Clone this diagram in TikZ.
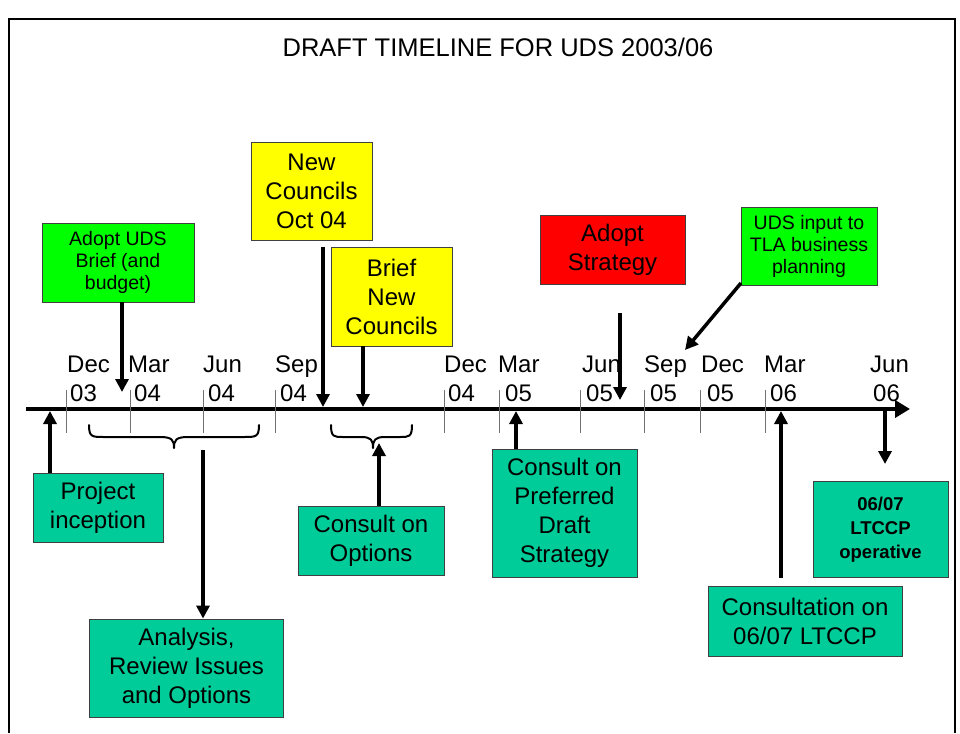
\documentclass[tikz,border=0pt]{standalone}
\usepackage{fontspec}
\setmainfont{Liberation Sans}
\usetikzlibrary{arrows.meta}
\definecolor{boxgreen}{HTML}{00FF00}
\definecolor{boxteal}{HTML}{00CC99}
\definecolor{boxyellow}{HTML}{FFFF00}
\definecolor{boxred}{HTML}{FF0000}
\tikzset{
  box/.style={draw=black!75, line width=0.9pt, rectangle, inner sep=0pt, align=center,
    font=\fontsize{24}{29}\selectfont},
  smallbox/.style={box, font=\fontsize{19.5}{22}\selectfont},
  boldbox/.style={box, font=\fontsize{18.5}{24}\selectfont\bfseries},
  lbl/.style={anchor=base west, inner sep=0pt, font=\fontsize{24}{29}\selectfont},
  tick/.style={draw=black!55, line width=0.8pt},
  arr/.style={line width=3.5pt, -{Triangle[length=13pt,width=13pt]}},
  brace/.style={line width=2pt, line cap=round, line join=round},
}
\begin{document}
\begin{tikzpicture}[x=1pt,y=-1pt]
\useasboundingbox (0,0) rectangle (960,733);
% frame
\draw[line width=2pt] (9,733) -- (9,19) -- (955,19) -- (955,733);
% title
\node[font=\fontsize{25.5}{30}\selectfont] (title) at (498,47) {DRAFT TIMELINE FOR UDS 2003/06};
% axis
\coordinate (axL) at (26,409);
\coordinate (axR) at (910,409);
\draw[line width=4.5pt, -{Triangle[length=15pt,width=17pt]}] (axL) -- (axR);
% ticks
\foreach \x in {66,130,203,275,444,499,580,644,700,765}
  \draw[tick] (\x,390) -- (\x,433);
% date labels
\node[lbl] (m1) at (67,372) {Dec};  \node[lbl] (y1) at (70,401) {03};
\node[lbl] (m2) at (128,372) {Mar}; \node[lbl] (y2) at (134,401) {04};
\node[lbl] (m3) at (203,372) {Jun}; \node[lbl] (y3) at (208,401) {04};
\node[lbl] (m4) at (275,372) {Sep}; \node[lbl] (y4) at (280,401) {04};
\node[lbl] (m5) at (444,372) {Dec}; \node[lbl] (y5) at (448,401) {04};
\node[lbl] (m6) at (498,372) {Mar}; \node[lbl] (y6) at (505,401) {05};
\node[lbl] (m7) at (582,372) {Jun}; \node[lbl] (y7) at (586,401) {05};
\node[lbl] (m8) at (644,372) {Sep}; \node[lbl] (y8) at (650,401) {05};
\node[lbl] (m9) at (701,372) {Dec}; \node[lbl] (y9) at (707,401) {05};
\node[lbl] (m10) at (764,372) {Mar}; \node[lbl] (y10) at (770,401) {06};
\node[lbl] (m11) at (870,372) {Jun}; \node[lbl] (y11) at (873,401) {06};
% boxes
\node[smallbox, fill=boxgreen, minimum width=152pt, minimum height=79pt] (adopt) at (118,262.5) {Adopt UDS\\Brief (and\\budget)};
\node[box, fill=boxyellow, minimum width=121pt, minimum height=98pt] (newc) at (311.5,191) {New\\Councils\\Oct 04};
\node[box, fill=boxyellow, minimum width=121pt, minimum height=99pt] (brief) at (391.5,296.5) {Brief\\New\\Councils};
\node[box, fill=boxred, minimum width=145pt, minimum height=69pt] (strat) at (612.5,249.5) {Adopt\\Strategy};
\node[smallbox, fill=boxgreen, minimum width=136pt, minimum height=78pt] (uds) at (809,246) {UDS input to\\TLA business\\planning};
\node[box, fill=boxteal, minimum width=130pt, minimum height=69pt] (proj) at (98,507.5) {Project\\inception};
\node[box, fill=boxteal, minimum width=194pt, minimum height=98pt] (anal) at (186.5,668) {Analysis,\\Review Issues\\and Options};
\node[box, fill=boxteal, minimum width=146pt, minimum height=69pt] (opts) at (371,540.5) {Consult on\\Options};
\node[box, fill=boxteal, minimum width=145pt, minimum height=128pt] (pref) at (564.5,513) {Consult on\\Preferred\\Draft\\Strategy};
\node[box, fill=boxteal, minimum width=194pt, minimum height=70pt] (ltccp) at (805,621) {Consultation on\\06/07 LTCCP};
\node[boldbox, fill=boxteal, minimum width=135pt, minimum height=96pt] (oper) at (880.5,529.5) {06/07\\LTCCP\\operative};
% braces
\draw[brace] (89,425) .. controls (89,437) and (92,437) .. (104,437) -- (160,437)
  .. controls (172,437) and (174,440) .. (174,448)
  .. controls (174,440) and (176,437) .. (188,437) -- (244,437)
  .. controls (256,437) and (259,437) .. (259,425);
\draw[brace] (331,425) .. controls (331,437) and (334,437) .. (343,437) -- (361,437)
  .. controls (371,437) and (373,440) .. (373,448)
  .. controls (373,440) and (375,437) .. (385,437) -- (400,437)
  .. controls (409,437) and (412,437) .. (412,425);
% arrow coordinates
\coordinate (tAdopt) at (122,392);
\coordinate (sNewc) at (323,247);
\coordinate (tNewc) at (323,407);
\coordinate (tBrief) at (363,407);
\coordinate (sStrat) at (620,313);
\coordinate (tStrat) at (620,400);
\coordinate (sUds) at (741,283);
\coordinate (tUds) at (685,350);
\coordinate (tProj) at (50,411);
\coordinate (sAnal) at (203,450);
\coordinate (tOpts) at (379,443);
\coordinate (tPref) at (516,411);
\coordinate (sLtccp) at (781,578);
\coordinate (tLtccp) at (781,411);
\coordinate (sOper) at (885,409);
\coordinate (tOper) at (885,464);
% arrows
\draw[arr] (adopt.south -| tAdopt) -- (tAdopt);
\draw[arr] (sNewc) -- (tNewc);
\draw[arr] (brief.south -| tBrief) -- (tBrief);
\draw[arr] (sStrat) -- (tStrat);
\draw[arr] (sUds) -- (tUds);
\draw[arr] (proj.north -| tProj) -- (tProj);
\draw[arr] (sAnal) -- (anal.north -| sAnal);
\draw[arr] (opts.north -| tOpts) -- (tOpts);
\draw[arr] (pref.north -| tPref) -- (tPref);
\draw[arr] (sLtccp) -- (tLtccp);
\draw[arr] (sOper) -- (tOper);
\end{tikzpicture}
\end{document}
